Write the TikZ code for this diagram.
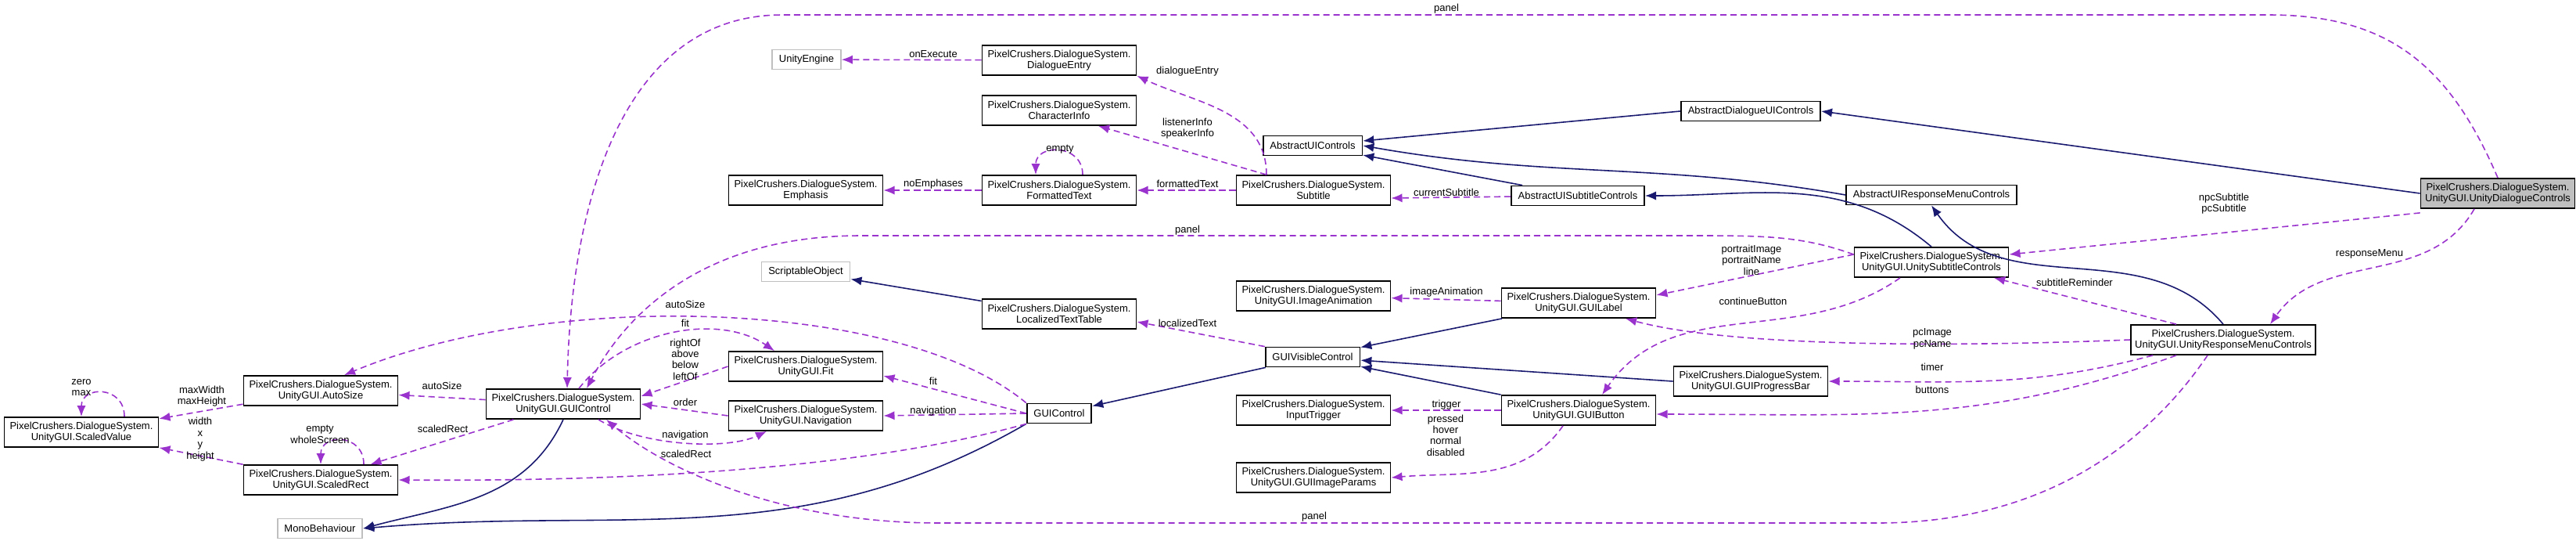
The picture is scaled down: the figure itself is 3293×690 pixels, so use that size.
\documentclass[tikz,border=0pt]{standalone}
\usepackage{fontspec}
\setmainfont{Liberation Sans}
\usetikzlibrary{arrows.meta}
\definecolor{usecol}{HTML}{9A32CD}
\definecolor{inhcol}{HTML}{191970}
\definecolor{extcol}{HTML}{BFBFBF}
\newcommand\fs{\fontsize{3.7pt}{4.1pt}\selectfont}

\begin{document}
\begin{tikzpicture}[x=0.01cm,y=-0.01cm,
  cls/.style={draw,rectangle,line width=0.5pt,fill=white,align=center,font=\fs,
    minimum width=1.97cm,minimum height=0.38cm,inner sep=0pt},
  one/.style={draw,rectangle,line width=0.5pt,fill=white,font=\fs,
    minimum height=0.25cm,inner xsep=2.5pt,inner ysep=0pt},
  ext/.style={one,draw=extcol},
  lbl/.style={font=\fs,align=center,inner sep=0.5pt,text=black},
  use/.style={usecol,dashed,dash pattern=on 2.3pt off 1.4pt,line width=0.45pt,
    -{Latex[length=4pt,width=3.2pt]}},
  inh/.style={inhcol,line width=0.45pt,-{Latex[length=4pt,width=3.2pt]}}]
\useasboundingbox (0,0) rectangle (3293,690);

% left part
\node [cls] (svalue) at(104,552){PixelCrushers.DialogueSystem.\\UnityGUI.ScaledValue};
\node [cls] (asize) at(410,499){PixelCrushers.DialogueSystem.\\UnityGUI.AutoSize};
\node [cls] (srect) at(410,613){PixelCrushers.DialogueSystem.\\UnityGUI.ScaledRect};
\node [ext] (mono) at(409,675){MonoBehaviour};
\node [cls] (ugctl) at(720,516){PixelCrushers.DialogueSystem.\\UnityGUI.GUIControl};
\node [cls] (emph) at(1030,243){PixelCrushers.DialogueSystem.\\Emphasis};
\node [ext] (sobj) at(1030,347){ScriptableObject};
\node [cls] (fit) at(1030,468){PixelCrushers.DialogueSystem.\\UnityGUI.Fit};
\node [cls] (nav) at(1030,531){PixelCrushers.DialogueSystem.\\UnityGUI.Navigation};
\node [ext] (ueng) at(1031,76){UnityEngine};

% middle part
\node [cls] (dentry) at(1354,77){PixelCrushers.DialogueSystem.\\DialogueEntry};
\node [cls] (cinfo) at(1354,141){PixelCrushers.DialogueSystem.\\CharacterInfo};
\node [cls] (ftext) at(1354,243){PixelCrushers.DialogueSystem.\\FormattedText};
\node [cls] (ltt) at(1354,401){PixelCrushers.DialogueSystem.\\LocalizedTextTable};
\node [one] (gctl) at(1354,528){GUIControl};
\node [one] (auic) at(1678,186){AbstractUIControls};
\node [cls] (sub) at(1679,243){PixelCrushers.DialogueSystem.\\Subtitle};
\node [cls] (imgan) at(1679,378){PixelCrushers.DialogueSystem.\\UnityGUI.ImageAnimation};
\node [one] (gvis) at(1678,456){GUIVisibleControl};
\node [cls] (itrig) at(1679,524){PixelCrushers.DialogueSystem.\\InputTrigger};
\node [cls] (gip) at(1679,610){PixelCrushers.DialogueSystem.\\UnityGUI.GUIImageParams};
\node [one] (ausc) at(2017,250){AbstractUISubtitleControls};
\node [cls] (glabel) at(2018,387){PixelCrushers.DialogueSystem.\\UnityGUI.GUILabel};
\node [cls] (gbtn) at(2018,524){PixelCrushers.DialogueSystem.\\UnityGUI.GUIButton};

% right part
\node [one] (adui) at(2238,142){AbstractDialogueUIControls};
\node [cls] (gprog) at(2238,487){PixelCrushers.DialogueSystem.\\UnityGUI.GUIProgressBar};
\node [one] (aurm) at(2469,249){AbstractUIResponseMenuControls};
\node [cls] (usc) at(2469,335){PixelCrushers.DialogueSystem.\\UnityGUI.UnitySubtitleControls};
\node [cls,minimum width=2.36cm] (urm) at(2842,434){PixelCrushers.DialogueSystem.\\UnityGUI.UnityResponseMenuControls};
\node [cls,fill=extcol] (udc) at(3193,247){PixelCrushers.DialogueSystem.\\UnityGUI.UnityDialogueControls};

% inheritance
\draw[inh](ugctl.south) to[out=-115,in=15] (mono.east);
\draw[inh](gctl.south west) to[out=-150,in=5] (mono.east);
\draw[inh](ltt) -- (sobj);
\draw[inh](gvis) -- (gctl);
\draw[inh](glabel) -- (gvis);
\draw[inh](gprog.west) -- (gvis);
\draw[inh](gbtn) -- (gvis);
\draw[inh](adui.west) -- (auic);
\draw[inh](ausc) -- (auic);
\draw[inh](aurm.west) to[out=170,in=-10] (auic.east);
\draw[inh](usc.north) to[out=140,in=0] (ausc.east);
\draw[inh](urm.north) to[out=130,in=-55] (aurm.south);
\draw[inh](udc.west) -- (adui.east);

% usage
\draw[use](ugctl) -- (asize);
\node[lbl] (l1) at(565,493){autoSize};
\draw[use](ugctl) -- (srect);
\node[lbl] (l2) at(566,548){scaledRect};
\draw[use](asize) -- (svalue);
\node[lbl] (l3) at(258,506){maxWidth\\maxHeight};
\draw[use](srect) -- (svalue);
\node[lbl] (l4) at(256,561){width\\x\\y\\height};
\draw[use]([xshift=0.55cm]svalue.north) .. controls +(0,-40) and +(0,-40) .. (svalue.north);
\node[lbl] (l5) at(104,495){zero\\max};
\draw[use]([xshift=0.55cm]srect.north) .. controls +(0,-40) and +(0,-40) .. (srect.north);
\node[lbl] (l6) at(409,555){empty\\wholeScreen};
\draw[use](fit.west) -- ([yshift=0.1cm]ugctl.east);
\node[lbl] (l7) at(876,459){rightOf\\above\\below\\leftOf};
\draw[use](nav.west) -- (ugctl.east);
\node[lbl] (l8) at(876,514){order};
\draw[use]([xshift=0.2cm]ugctl.north) .. controls (800,420) and (920,400) .. ([xshift=-0.4cm]fit.north);
\node[lbl] (l9) at(876,413){fit};
\draw[use]([xshift=0.45cm]ugctl.south) .. controls (820,570) and (930,575) .. ([xshift=-0.5cm]nav.south);
\node[lbl] (l10) at(876,556){navigation};
\draw[use](gctl.north west) .. controls (1150,380) and (700,370) .. ([xshift=0.3cm]asize.north);
\node[lbl] (l11) at(876,389){autoSize};
\draw[use](gctl.west) -- ([yshift=-0.12cm]fit.east);
\node[lbl] (l12) at(1193,487){fit};
\draw[use](gctl.west) -- (nav.east);
\node[lbl] (l13) at(1193,525){navigation};
\draw[use](gctl.south west) .. controls (1100,600) and (800,615) .. (srect.east);
\node[lbl] (l14) at(877,580){scaledRect};
\draw[use](udc.north) .. controls (3130,80) and (3050,19) .. (2900,19) -- (1000,19)
  .. controls (800,19) and (730,250) .. ([xshift=0.05cm]ugctl.north);
\node[lbl] (l15) at(1849,11){panel};
\draw[use]([yshift=0.1cm]usc.west) .. controls (2300,300) and (2250,301) .. (2150,301) -- (1100,301)
  .. controls (900,301) and (800,400) .. ([xshift=0.3cm]ugctl.north);
\node[lbl] (l16) at(1518,294){panel};
\draw[use]([xshift=-0.2cm]urm.south) .. controls (2750,560) and (2620,668) .. (2400,668) -- (1200,668)
  .. controls (1000,668) and (850,600) .. ([xshift=0.55cm]ugctl.south);
\node[lbl] (l17) at(1680,660){panel};
\draw[use](dentry) -- (ueng);
\node[lbl] (l18) at(1193,69){onExecute};
\draw[use]([xshift=-0.6cm]sub.north) to[out=90,in=-25] (dentry.south east);
\node[lbl] (l19) at(1518,91){dialogueEntry};
\draw[use]([xshift=-0.6cm]sub.north) -- ([xshift=0.5cm]cinfo.south);
\node[lbl] (l20) at(1518,164){listenerInfo\\speakerInfo};
\draw[use](sub) -- (ftext);
\node[lbl] (l21) at(1518,235){formattedText};
\draw[use](ftext) -- (emph);
\node[lbl] (l22) at(1193,235){noEmphases};
\draw[use]([xshift=0.3cm]ftext.north) .. controls +(0,-40) and +(0,-40) .. ([xshift=-0.3cm]ftext.north);
\node[lbl] (l23) at(1355,191){empty};
\draw[use](ausc) -- ([yshift=-0.1cm]sub.east);
\node[lbl] (l24) at(1849,246){currentSubtitle};
\draw[use](gvis.north west) -- ([yshift=-0.1cm]ltt.east);
\node[lbl] (l25) at(1518,413){localizedText};
\draw[use](glabel) -- (imgan);
\node[lbl] (l26) at(1849,373){imageAnimation};
\draw[use](gbtn) -- (itrig);
\node[lbl] (l27) at(1849,517){trigger};
\draw[use]([xshift=-0.2cm]gbtn.south) to[out=-125,in=5] (gip.east);
\node[lbl] (l28) at(1848,556){pressed\\hover\\normal\\disabled};
\draw[use]([yshift=0.1cm]usc.west) -- ([yshift=0.1cm]glabel.east);
\node[lbl] (l29) at(2239,332){portraitImage\\portraitName\\line};
\draw[use]([xshift=-0.4cm]usc.south) to[out=-145,in=55] ([xshift=0.3cm]gbtn.north);
\node[lbl] (l30) at(2241,385){continueButton};
\draw[use](urm.west) .. controls (2450,445) and (2200,440) .. ([xshift=0.6cm]glabel.south);
\node[lbl] (l31) at(2470,433){pcImage\\pcName};
\draw[use]([xshift=-0.9cm]urm.south) to[out=195,in=0] (gprog.east);
\node[lbl] (l32) at(2470,469){timer};
\draw[use]([xshift=-0.6cm]urm.south) to[out=-160,in=0] ([yshift=-0.05cm]gbtn.east);
\node[lbl] (l33) at(2470,498){buttons};
\draw[use]([xshift=-0.6cm]urm.north) -- ([xshift=0.8cm]usc.south);
\node[lbl] (l34) at(2652,361){subtitleReminder};
\draw[use]([yshift=-0.05cm]udc.south west) -- ([yshift=0.1cm]usc.east);
\node[lbl] (l35) at(2843,260){npcSubtitle\\pcSubtitle};
\draw[use]([xshift=-0.3cm]udc.south) to[out=-120,in=55] ([xshift=0.6cm]urm.north);
\node[lbl] (l36) at(3029,324){responseMenu};
\end{tikzpicture}
\end{document}
